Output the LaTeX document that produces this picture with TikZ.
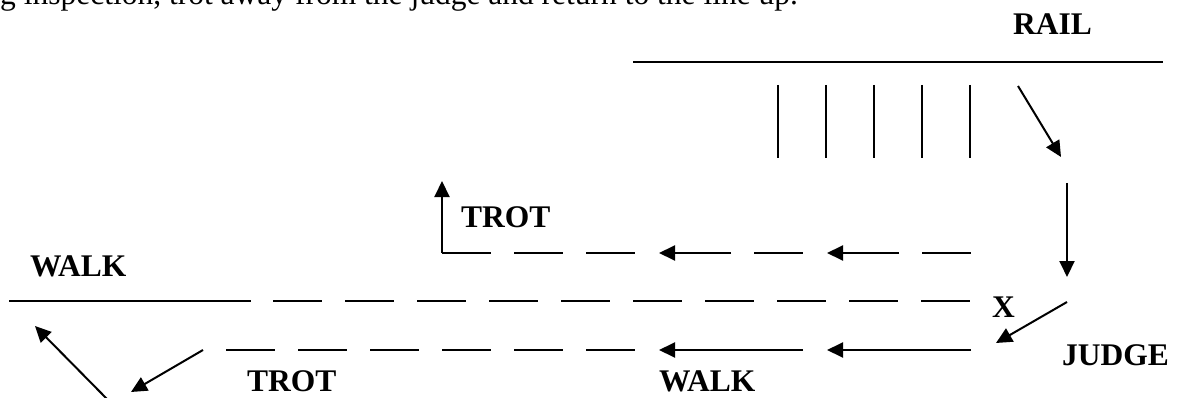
\documentclass[tikz,border=0pt]{standalone}
\usepackage{fontspec}
\setmainfont{Liberation Serif}
\usetikzlibrary{arrows.meta}
\begin{document}
\begin{tikzpicture}[x=1pt,y=-1pt,
  ln/.style={line width=2pt},
  run/.style={ln,-{Triangle[length=16pt,width=15pt]}},
  dsh/.style={ln,dash pattern=on 49pt off 23pt},
  lbl/.style={inner sep=0pt,anchor=base west,font=\fontsize{31.5}{36}\selectfont\bfseries},
  txt/.style={inner sep=0pt,anchor=base west,font=\fontsize{31.5}{36}\selectfont}]
\useasboundingbox (0,0) rectangle (1182,398);
\clip (0,0) rectangle (1182,398);

% tail of the instruction sentence
\node[txt] (note) at (0,5) {g inspection, trot away from the judge and return to the line up.};

% labels
\node[lbl] (rail)   at (1013,35)  {RAIL};
\node[lbl] (walkA)  at (30,276)   {WALK};
\node[lbl] (trotA)  at (461,227)  {TROT};
\node[lbl] (x)      at (992,317)  {X};
\node[lbl] (judge)  at (1062,365) {JUDGE};
\node[lbl] (trotB)  at (247,391)  {TROT};
\node[lbl] (walkB)  at (659,391)  {WALK};

% rail and the horses in the line up
\coordinate (railL) at (633,62);
\coordinate (railR) at (1163,62);
\draw[ln] (railL) -- (railR);
\foreach \i/\xx in {1/778,2/826,3/874,4/922,5/970}{
  \coordinate (h\i t) at (\xx,85);
  \coordinate (h\i b) at (\xx,158);
  \draw[ln] (h\i t) -- (h\i b);
}

% leaving the line up and walking to the judge
\coordinate (outS) at (1018,86);
\coordinate (outE) at (1061,157);
\draw[run] (outS) -- (outE);
\coordinate (downS) at (1067,183);
\coordinate (downE) at (1067,277);
\draw[run] (downS) -- (downE);
\coordinate (judgeS) at (1067,302);
\coordinate (judgeE) at (996,343);
\draw[run] (judgeS) -- (judgeE);

% centre line through X
\coordinate (walkL) at (9,301);
\coordinate (walkM) at (251,301);
\coordinate (dashL) at (273,301);
\coordinate (dashR) at (971,301);
\draw[ln] (walkL) -- (walkM);
\draw[dsh] (dashL) -- (dashR);

% lower track: walk away, then trot
\coordinate (lowL) at (226,350);
\coordinate (lowM) at (635,350);
\draw[dsh] (lowL) -- (lowM);
\coordinate (lw1S) at (803,350);
\coordinate (lw1E) at (659,350);
\coordinate (lw2S) at (971,350);
\coordinate (lw2E) at (827,350);
\draw[run] (lw1S) -- (lw1E);
\draw[run] (lw2S) -- (lw2E);

% turns at the far end
\coordinate (turnS) at (203,350);
\coordinate (turnE) at (131,392);
\draw[run] (turnS) -- (turnE);
\coordinate (backS) at (109,401);
\coordinate (backE) at (35,326);
\draw[run] (backS) -- (backE);

% upper track: trot back to the line up
\coordinate (upC) at (442,253);
\coordinate (upT) at (442,181);
\coordinate (upM) at (635,253);
\draw[run] (upC) -- (upT);
\draw[dsh] (upC) -- (upM);
\coordinate (u1S) at (731,253);
\coordinate (u1E) at (659,253);
\coordinate (u2S) at (899,253);
\coordinate (u2E) at (827,253);
\coordinate (u3L) at (754,253);
\coordinate (u3R) at (803,253);
\coordinate (u4L) at (922,253);
\coordinate (u4R) at (971,253);
\draw[run] (u1S) -- (u1E);
\draw[run] (u2S) -- (u2E);
\draw[ln] (u3L) -- (u3R);
\draw[ln] (u4L) -- (u4R);
\end{tikzpicture}
\end{document}
